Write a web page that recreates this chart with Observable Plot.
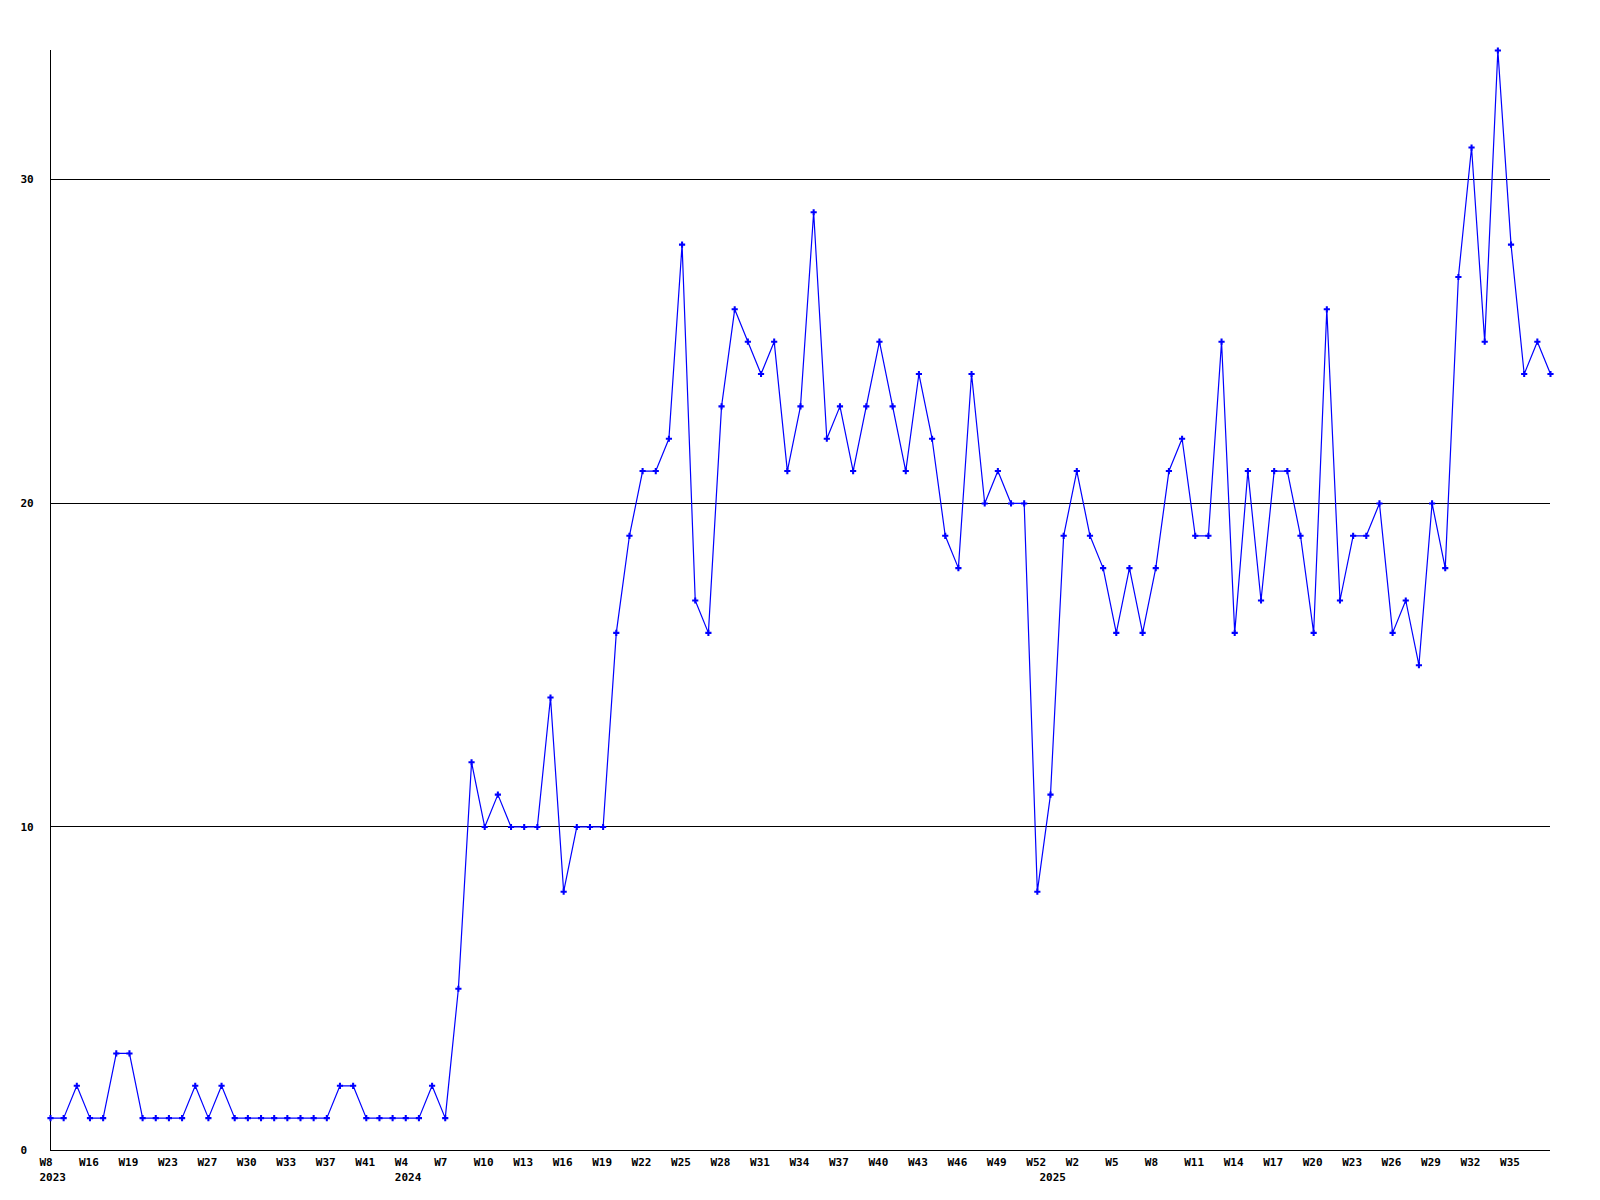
<!DOCTYPE html>
<html>
<head>
<meta charset="utf-8">
<script src="https://cdn.jsdelivr.net/npm/d3@7"></script>
<script src="https://cdn.jsdelivr.net/npm/@observablehq/plot@0.6"></script>
<style>
  html, body { margin: 0; padding: 0; background: #ffffff; overflow: hidden; }
  #chart { width: 1600px; height: 1200px; }
</style>
</head>
<body>
<div id="chart"></div>
<script>
// Week categories (only weeks that have data), per year
const weeks2023 = ["W8","W11","W14","W16","W17","W18","W19","W20","W21","W23","W24","W25","W27","W28","W29","W30","W31","W32","W33","W34","W35","W37","W38","W39","W41","W42","W44"];
const weeks2024 = ["W4","W5","W6","W7","W8","W9","W10","W11","W12","W13","W14","W15","W16","W17","W18","W19","W20","W21","W22","W23","W24","W25","W26","W27","W28","W29","W30","W31","W32","W33","W34","W35","W36","W37","W38","W39","W40","W41","W42","W43","W44","W45","W46","W47","W48","W49","W50","W51","W52"];
const weeks2025 = ["W0","W1","W2","W3","W4","W5","W6","W7","W8","W9","W10","W11","W12","W13","W14","W15","W16","W17","W18","W19","W20","W21","W22","W23","W24","W25","W26","W27","W28","W29","W30","W31","W32","W33","W34","W35","W36","W37","W38"];

// Series values per year
const counts2023 = [1,1,2,1,1,3,3,1,1,1,1,2,1,2,1,1,1,1,1,1,1,1,2,2,1,1,1];
const counts2024 = [1,1,2,1,5,12,10,11,10,10,10,14,8,10,10,10,16,19,21,21,22,28,17,16,23,26,25,24,25,21,23,29,22,23,21,23,25,23,21,24,22,19,18,24,20,21,20,20,8];
const counts2025 = [11,19,21,19,18,16,18,16,18,21,22,19,19,25,16,21,17,21,21,19,16,26,17,19,19,20,16,17,15,20,18,27,31,25,34,28,24,25,24];

const years = ["2023","2024","2025"];
const yTicks = [0, 10, 20, 30];
const gridValues = [10, 20, 30];

// Build table for the library (position = order of the week categories)
const weekLists = [weeks2023, weeks2024, weeks2025];
const countLists = [counts2023, counts2024, counts2025];
const data = [];
years.forEach((yr, i) => {
  weekLists[i].forEach((w, j) => {
    data.push({pos: data.length, week: w, year: yr, count: countLists[i][j], first: j === 0});
  });
});
const lastPos = data.length - 1;
const tickPositions = data.filter(d => d.pos % 3 === 0 && d.pos < lastPos).map(d => d.pos);
const yearStarts = data.filter(d => d.first);

const chart = Plot.plot({
  width: 1600,
  height: 1200,
  marginTop: 50,
  marginBottom: 50,
  marginLeft: 50,
  marginRight: 50,
  style: {
    fontFamily: "'DejaVu Sans Mono', monospace",
    fontWeight: "bold",
    fontSize: "11px",
    background: "#ffffff",
    color: "#000000"
  },
  x: {type: "linear", domain: [0, lastPos], range: [50, 1550]},
  y: {domain: [0, 34], range: [1150, 50]},
  marks: [
    Plot.ruleY(gridValues, {x1: 0, x2: lastPos, stroke: "#000000", strokeWidth: 1, shapeRendering: "crispEdges"}),
    Plot.ruleY([0], {x1: 0, x2: lastPos, stroke: "#000000", strokeWidth: 1, shapeRendering: "crispEdges"}),
    Plot.ruleX([0], {y1: 0, y2: 34, stroke: "#000000", strokeWidth: 1, shapeRendering: "crispEdges"}),
    Plot.axisX({
      ticks: tickPositions,
      tickSize: 0,
      tickPadding: 8,
      tickFormat: p => data[p].week,
      textAnchor: "start",
      dx: -11,
      label: null,
      fill: "#000000"
    }),
    Plot.axisY({
      ticks: yTicks,
      tickSize: 0,
      tickPadding: 0,
      textAnchor: "start",
      dx: -30,
      label: null,
      fill: "#000000"
    }),
    Plot.text(yearStarts, {
      x: "pos",
      y: () => 0,
      text: "year",
      lineAnchor: "top",
      textAnchor: "start",
      dx: -11,
      dy: 23,
      fill: "#000000"
    }),
    Plot.line(data, {x: "pos", y: "count", stroke: "#0000ff", strokeWidth: 1.2}),
    Plot.dot(data, {x: "pos", y: "count", symbol: "cross", r: 2.6, fill: "#0000ff", stroke: null})
  ]
});
document.getElementById("chart").appendChild(chart);
</script>
</body>
</html>
